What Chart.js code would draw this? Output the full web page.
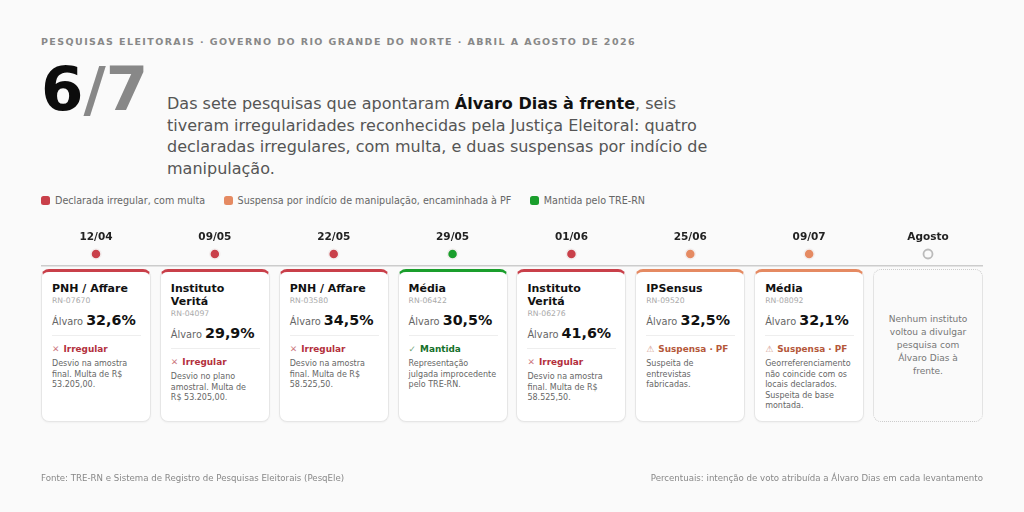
<!DOCTYPE html>
<html lang="pt-BR">
<head>
<meta charset="utf-8">
<title>Pesquisas eleitorais RN</title>
<script src="https://cdn.jsdelivr.net/npm/chart.js@4/dist/chart.umd.min.js"></script>
<style>
  * { box-sizing: border-box; margin: 0; padding: 0; }
  html, body { width: 1024px; height: 512px; overflow: hidden; background: #fafafa; font-family: "DejaVu Sans", sans-serif; }
  #chart { position: absolute; left: 0; top: 0; }
  .kicker { position: absolute; left: 41px; top: 36px; font-size: 9.5px; font-weight: 700; letter-spacing: 1.41px; color: #888; white-space: nowrap; }
  .big { position: absolute; left: 41px; top: 51px; font-size: 61px; line-height: 75px; font-weight: 700; color: #0c0c0c; white-space: nowrap; }
  .big span { color: #888; }
  .lead { position: absolute; left: 167px; top: 93px; width: 560px; font-size: 16px; line-height: 21.7px; color: #555; }
  .lead b { color: #111; }
  .legend { position: absolute; left: 41px; top: 194px; display: flex; gap: 18.5px; font-size: 9.6px; line-height: 14px; color: #666; }
  .legend i { display: inline-block; width: 9px; height: 9px; border-radius: 2.5px; margin-right: 5px; vertical-align: -1px; }
  .card { position: absolute; top: 269px; height: 153px; width: 110px; padding: 9.5px 9px 0 10px; background: #fff; border: 1px solid #e6e6e6; border-top: 3px solid #ccc; border-radius: 8px; box-shadow: 0 1px 2px rgba(0,0,0,.04); }
  .card h3 { font-size: 11px; line-height: 13px; font-weight: 700; color: #111; }
  .rn { font-size: 7.7px; line-height: 12px; color: #aaa; }
  .pct { font-size: 9.8px; line-height: 22px; color: #666; margin-top: 2px; white-space: nowrap; }
  .pct b { font-size: 14.3px; color: #111; }
  .sit { border-top: 1px solid #eee; margin-top: 2px; padding-top: 7px; font-size: 8.9px; line-height: 13px; font-weight: 700; white-space: nowrap; }
  .sit em { font-style: normal; opacity: .65; margin-right: 1px; }
  .txt { font-size: 8px; line-height: 10.6px; color: #666; margin-top: 3.5px; }
  .card.vazio { border: 1px dotted #ccc; background: transparent; box-shadow: none; padding: 0 13px; text-align: center; font-size: 9.05px; line-height: 13px; color: #777; display: flex; align-items: center; }
  .fonte { position: absolute; top: 472px; font-size: 8.63px; line-height: 12px; color: #888; white-space: nowrap; }
</style>
</head>
<body>
<div class="kicker">PESQUISAS ELEITORAIS · GOVERNO DO RIO GRANDE DO NORTE · ABRIL A AGOSTO DE 2026</div>
<div class="big">6<span>/7</span></div>
<div class="lead">Das sete pesquisas que apontaram <b>Álvaro Dias à frente</b>, seis tiveram irregularidades reconhecidas pela Justiça Eleitoral: quatro declaradas irregulares, com multa, e duas suspensas por indício de manipulação.</div>
<div class="legend" id="legend"></div>
<div id="cards"></div>
<canvas id="chart" width="1024" height="512"></canvas>
<div class="fonte" style="left:41px">Fonte: TRE-RN e Sistema de Registro de Pesquisas Eleitorais (PesqEle)</div>
<div class="fonte" style="right:41px">Percentuais: intenção de voto atribuída a Álvaro Dias em cada levantamento</div>

<script>
const datas = ["12/04", "09/05", "22/05", "29/05", "01/06", "25/06", "09/07", "Agosto"];
const institutos = ["PNH / Affare", "Instituto Veritá", "PNH / Affare", "Média", "Instituto Veritá", "IPSensus", "Média"];
const registros = ["RN-07670", "RN-04097", "RN-03580", "RN-06422", "RN-06276", "RN-09520", "RN-08092"];
const percentuais = [32.6, 29.9, 34.5, 30.5, 41.6, 32.5, 32.1];
const situacoes = ["irregular", "irregular", "irregular", "mantida", "irregular", "suspensa", "suspensa"];
const textos = [
    "Desvio na amostra final. Multa de R$ 53.205,00.",
    "Desvio no plano amostral. Multa de R$\u00a053.205,00.",
    "Desvio na amostra final. Multa de R$ 58.525,50.",
    "Representação julgada improcedente pelo TRE-RN.",
    "Desvio na amostra final. Multa de R$ 58.525,50.",
    "Suspeita de entrevistas fabricadas.",
    "Georreferenciamento não coincide com os locais declarados. Suspeita de base montada."
];
const textoAgosto = "Nenhum instituto voltou a divulgar pesquisa com Álvaro Dias à frente.";

const cores = { irregular: "#c9404a", suspensa: "#e58a62", mantida: "#1a9e2c" };
const coresTexto = { irregular: "#b3303c", suspensa: "#b5583a", mantida: "#14702a" };
const rotulos = { irregular: "Irregular", suspensa: "Suspensa · PF", mantida: "Mantida" };
const icones = { irregular: "✕", suspensa: "⚠", mantida: "✓" };
const legenda = [
    ["irregular", "Declarada irregular, com multa"],
    ["suspensa", "Suspensa por indício de manipulação, encaminhada à PF"],
    ["mantida", "Mantida pelo TRE-RN"]
];

document.getElementById("legend").innerHTML = legenda
    .map(l => `<span><i style="background:${cores[l[0]]}"></i>${l[1]}</span>`)
    .join("");

function montarCards(chart) {
    const x = chart.scales.x;
    let html = "";
    datas.forEach((d, i) => {
        const left = x.getPixelForValue(i) - 55;
        if (i >= percentuais.length) {
            html += `<div class="card vazio" style="left:${left}px"><div>${textoAgosto}</div></div>`;
            return;
        }
        const s = situacoes[i];
        html += `<div class="card" style="left:${left}px;border-top-color:${cores[s]}">
            <h3>${institutos[i]}</h3>
            <div class="rn">${registros[i]}</div>
            <div class="pct">Álvaro <b>${percentuais[i].toFixed(1).replace(".", ",")}%</b></div>
            <div class="sit" style="color:${coresTexto[s]}"><em>${icones[s]}</em> ${rotulos[s]}</div>
            <div class="txt">${textos[i]}</div>
        </div>`;
    });
    document.getElementById("cards").innerHTML = html;
}

new Chart(document.getElementById("chart"), {
    type: "scatter",
    data: {
        datasets: [{
            data: datas.map((d, i) => ({ x: i, y: 0 })),
            pointRadius: ctx => situacoes[ctx.dataIndex] ? 5 : 4.5,
            pointHoverRadius: 5,
            pointBorderWidth: ctx => situacoes[ctx.dataIndex] ? 1.5 : 1.8,
            pointBackgroundColor: ctx => cores[situacoes[ctx.dataIndex]] || "#fafafa",
            pointBorderColor: ctx => situacoes[ctx.dataIndex] ? "#f3eeee" : "#bbb"
        }]
    },
    plugins: [{ id: "cards", afterRender: c => { if (!document.querySelector(".card")) montarCards(c); } }],
    options: {
        responsive: false,
        animation: false,
        layout: { padding: { left: 41, right: 41, top: 215, bottom: 246 } },
        plugins: { legend: { display: false }, tooltip: { enabled: false } },
        scales: {
            x: {
                type: "linear",
                position: "top",
                min: -0.4627,
                max: 7.4627,
                afterFit: s => { s.height = 30; },
                border: { display: false },
                grid: { display: false, drawTicks: false },
                ticks: {
                    stepSize: 1,
                    includeBounds: false,
                    maxRotation: 0,
                    padding: 1,
                    color: "#222",
                    font: { family: "DejaVu Sans", size: 10.5, weight: "700" },
                    callback: v => datas[v]
                }
            },
            y: {
                min: -1,
                max: 0.75,
                border: { display: false },
                grid: {
                    drawTicks: false,
                    lineWidth: 1.5,
                    color: ctx => ctx.tick.value === -1 ? "#ccc" : "transparent"
                },
                ticks: { display: false, stepSize: 1 }
            }
        }
    }
});
</script>
</body>
</html>
